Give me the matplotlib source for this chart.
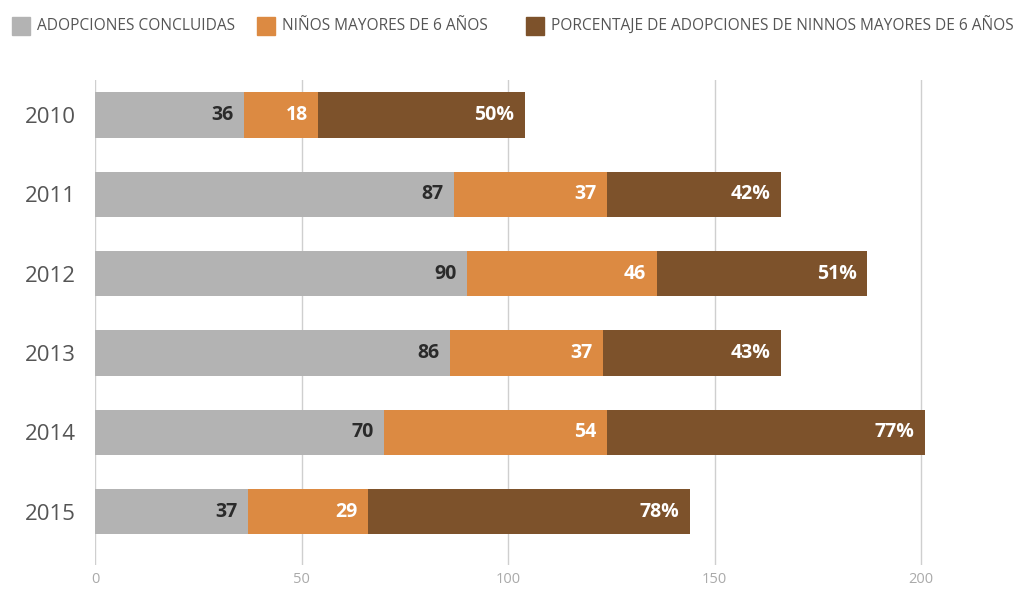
import matplotlib.pyplot as plt
from matplotlib.patches import Rectangle
import numpy as np

years = ["2010", "2011", "2012", "2013", "2014", "2015"]
adopciones = [36, 87, 90, 86, 70, 37]
mayores_6 = [18, 37, 46, 37, 54, 29]
porcentaje = [50, 42, 51, 43, 77, 78]

legend_labels = ["ADOPCIONES CONCLUIDAS", "NIÑOS MAYORES DE 6 AÑOS",
                 "PORCENTAJE DE ADOPCIONES DE NINNOS MAYORES DE 6 AÑOS"]
colors = ["#b3b3b3", "#dc8a42", "#7d522b"]

plt.rcParams['font.family'] = ['Open Sans', 'DejaVu Sans']

W, H = 1028, 591
fig = plt.figure(figsize=(W/100, H/100), dpi=100)
# axes area in pixels: x 95..962 (0..210), y 80..565
ax = fig.add_axes([95/W, 1 - 565/H, (210*4.13)/W, (565-80)/H])

y = np.arange(len(years))
h = 0.57
left2 = np.array(adopciones)
left3 = left2 + np.array(mayores_6)

ax.barh(y, adopciones, height=h, color=colors[0], zorder=2)
ax.barh(y, mayores_6, left=left2, height=h, color=colors[1], zorder=2)
ax.barh(y, porcentaje, left=left3, height=h, color=colors[2], zorder=2)

for i in range(len(years)):
    ax.text(adopciones[i] - 2.5, y[i], str(adopciones[i]), ha='right', va='center',
            fontsize=14, fontweight='bold', color='#2b2b2b', zorder=3)
    ax.text(left3[i] - 2.5, y[i], str(mayores_6[i]), ha='right', va='center',
            fontsize=14, fontweight='bold', color='white', zorder=3)
    ax.text(left3[i] + porcentaje[i] - 2.5, y[i], str(porcentaje[i]) + "%", ha='right',
            va='center', fontsize=14, fontweight='bold', color='white', zorder=3)

ax.set_xlim(0, 210)
ax.set_ylim(5.67, -0.44)
ax.set_xticks([0, 50, 100, 150, 200])
ax.grid(axis='x', color='#cfcfcf', linewidth=1, zorder=0)
ax.set_yticks(y)
ax.set_yticklabels(years, fontsize=16, color='#555555')
ax.tick_params(axis='x', length=0, labelsize=10.5, labelcolor='#aaaaaa', pad=5)
ax.tick_params(axis='y', length=0, pad=14)
for s in ax.spines.values():
    s.set_visible(False)

# legend row, drawn by hand to match the spacing
legend_x = [12, 257, 526]
for px, lab, c in zip(legend_x, legend_labels, colors):
    fig.patches.append(Rectangle((px/W, 1 - 35/H), 18/W, 18/H, transform=fig.transFigure,
                                 color=c, figure=fig))
    fig.text((px + 25)/W, 1 - 26/H, lab, ha='left', va='center', fontsize=11.2,
             color='#555555')

fig.savefig("out.png", dpi=100)
